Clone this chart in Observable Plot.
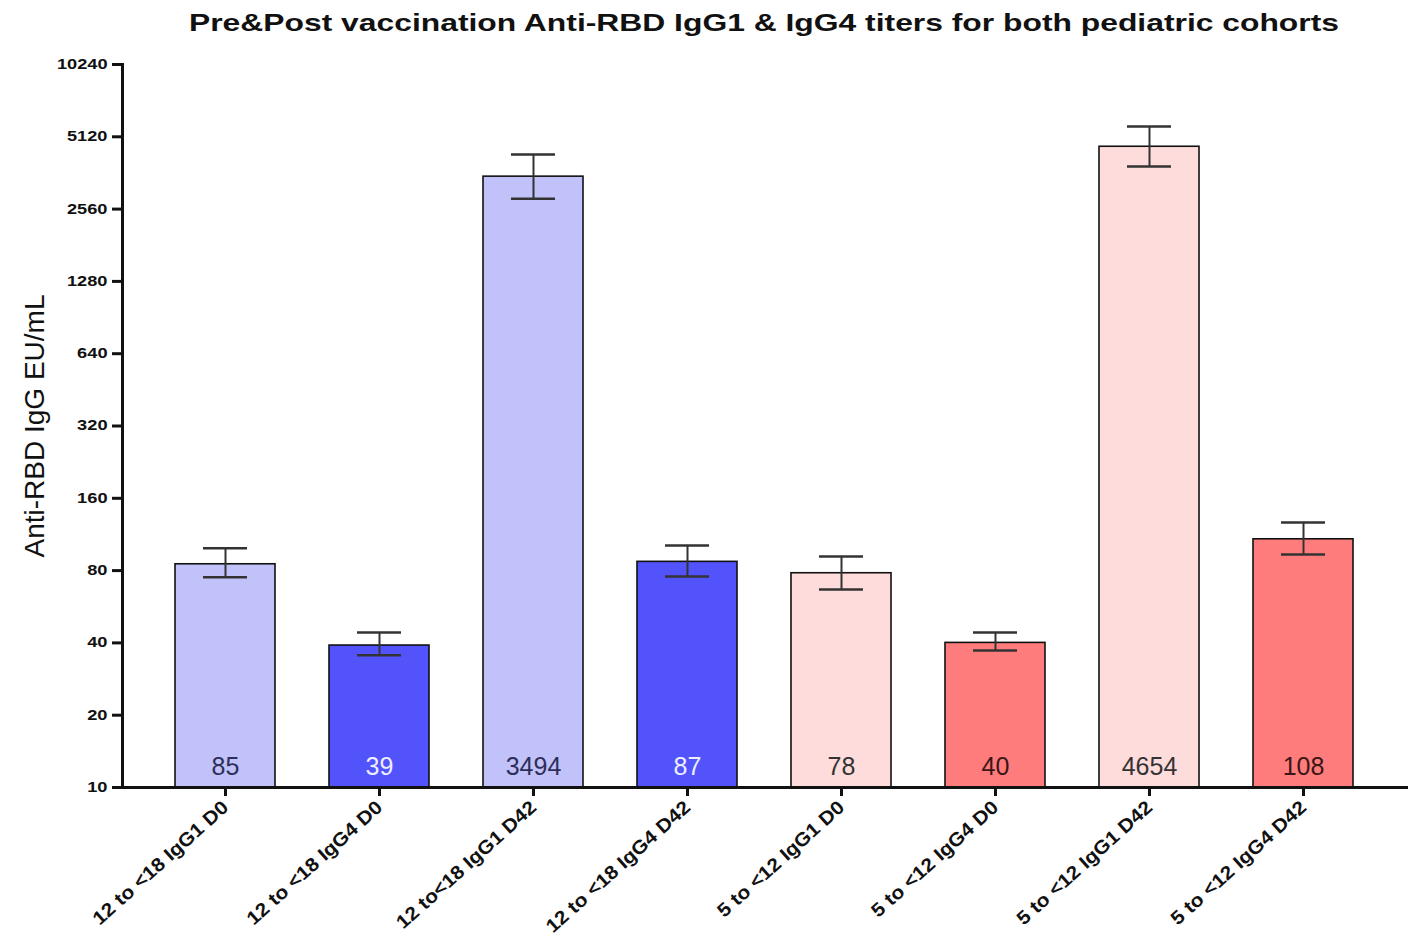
<!DOCTYPE html>
<html>
<head>
<meta charset="utf-8">
<script src="https://cdn.jsdelivr.net/npm/d3@7"></script>
<script src="https://cdn.jsdelivr.net/npm/@observablehq/plot@0.6"></script>
<style>
  html, body { margin: 0; padding: 0; background: #fff; }
  body { width: 1408px; height: 950px; overflow: hidden; font-family: "Liberation Sans", Arial, sans-serif; }
  #title { display: block; }
  #chart svg { display: block; }
  g[aria-label="x-axis tick label"] text { font-weight: bold; }
</style>
</head>
<body>
<svg id="title" width="1408" height="46">
  <text x="764" y="31" text-anchor="middle" font-family="Liberation Sans, Arial, sans-serif" font-weight="bold" font-size="24" fill="#111" textLength="1150" lengthAdjust="spacingAndGlyphs">Pre&amp;Post vaccination Anti-RBD IgG1 &amp; IgG4 titers for both pediatric cohorts</text>
</svg>
<div id="chart"></div>
<script>
// ---- data ----
const categories = [
  "12 to <18 IgG1 D0", "12 to <18 IgG4 D0", "12 to<18 IgG1 D42", "12 to <18 IgG4 D42",
  "5 to <12 IgG1 D0", "5 to <12 IgG4 D0", "5 to <12 IgG1 D42", "5 to <12 IgG4 D42"
];
const means = [85, 39, 3494, 87, 78, 40, 4654, 108];
const errLow = [75, 35.5, 2830, 75.6, 66.7, 37.2, 3850, 93.4];
const errHigh = [99, 44.2, 4320, 101.8, 91.6, 44.2, 5650, 127];
const barColors = ["#c2c2fa", "#5353fb", "#c2c2fa", "#5353fb", "#ffdcdc", "#ff7c7c", "#ffdcdc", "#ff7c7c"];
const labelColors = ["#2e2e58", "#eeeeff", "#2e2e58", "#eeeeff", "#333333", "#3a1616", "#333333", "#3a1616"];
const yTicks = [10, 20, 40, 80, 160, 320, 640, 1280, 2560, 5120, 10240];
const yLabel = "Anti-RBD IgG EU/mL";

const rows = categories.map((c, i) => ({
  label: c, mean: means[i], lo: errLow[i], hi: errHigh[i],
  color: barColors[i], textColor: labelColors[i]
}));
const yBase = yTicks[0];

const chart = Plot.plot({
  width: 1408,
  height: 904,
  marginTop: 18,
  marginBottom: 163,
  marginLeft: 122,
  marginRight: 2,
  style: { fontFamily: "Liberation Sans, Arial, sans-serif", color: "#111", background: "#fff" },
  x: { domain: categories, paddingInner: 0.35, paddingOuter: 0.34 },
  y: { type: "log", domain: [yTicks[0], yTicks[yTicks.length - 1]] },
  marks: [
    Plot.barY(rows, { x: "label", y1: () => yBase, y2: "mean", fill: "color", stroke: "#111", strokeWidth: 1.6 }),
    Plot.ruleX(rows, { x: "label", y1: "lo", y2: "hi", stroke: "#333", strokeWidth: 2 }),
    Plot.tickY(rows, { x: "label", y: "hi", stroke: "#333", strokeWidth: 2.5, insetLeft: 28, insetRight: 28 }),
    Plot.tickY(rows, { x: "label", y: "lo", stroke: "#333", strokeWidth: 2.5, insetLeft: 28, insetRight: 28 }),
    Plot.text(rows, { x: "label", y: () => yBase, dy: -21, text: d => String(d.mean), fill: "textColor", fontSize: 25 }),
    Plot.frame({ anchor: "left", stroke: "#111", strokeWidth: 3 }),
    Plot.frame({ anchor: "bottom", stroke: "#111", strokeWidth: 3 }),
    Plot.axisY({ ticks: yTicks, tickFormat: null, text: null, tickSize: 10, strokeWidth: 3, label: null }),
    Plot.text(yTicks, { y: d => d, frameAnchor: "left", dx: -15, textAnchor: "end", text: d => String(d), fontSize: 14, fontWeight: "bold", fill: "#111" }),
    Plot.axisX({ tickRotate: -42, tickSize: 9, tickPadding: 8, strokeWidth: 3, fontSize: 19, label: null }),
    Plot.text([yLabel], { frameAnchor: "left", dx: -87, rotate: -90, textAnchor: "middle", lineAnchor: "middle", fontSize: 28, fill: "#111" })
  ]
});
document.getElementById("chart").appendChild(chart);

// widen tick label glyphs a little, as in the original (wide-rendered) figure
function stretchText(t, factor) {
  const len = t.getComputedTextLength();
  t.setAttribute("textLength", (len * factor).toFixed(1));
  t.setAttribute("lengthAdjust", "spacingAndGlyphs");
}
const tickStrings = new Set(yTicks.map(String));
chart.querySelectorAll("g[text-anchor='end'] text").forEach(t => {
  if (tickStrings.has(t.textContent) && !t.closest('g[aria-label="x-axis tick label"]')) stretchText(t, 1.3);
});
chart.querySelectorAll('g[aria-label="x-axis tick label"] text').forEach(t => stretchText(t, 1.1));
</script>
</body>
</html>
